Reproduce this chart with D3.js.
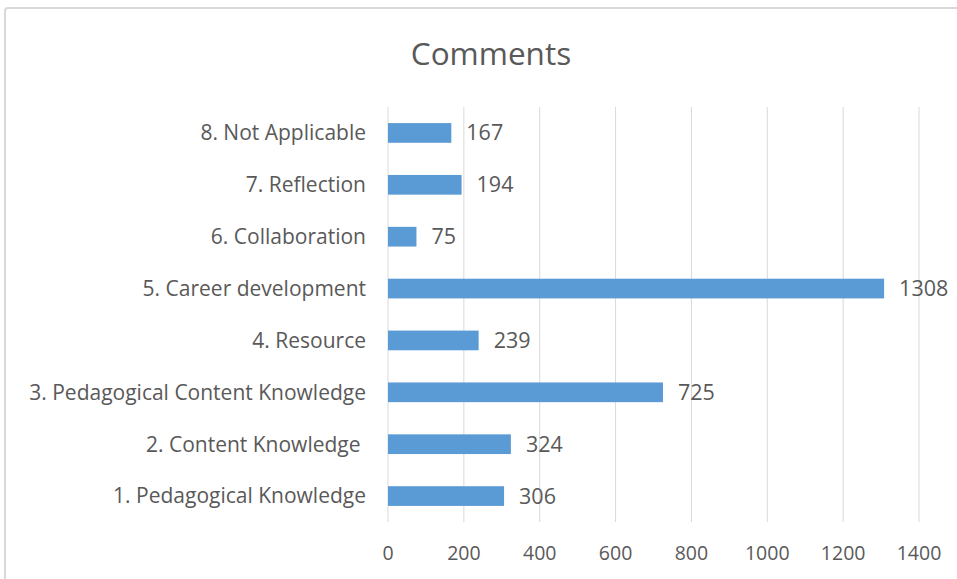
<!DOCTYPE html>
<html>
<head>
<script src="https://d3js.org/d3.v7.min.js"></script>
<style>
  body { margin: 0; background: #fff; }
  text { font-family: "Open Sans", sans-serif; fill: #595959; }
  .cat { white-space: pre; }
</style>
</head>
<body>
<script>
// chart data, bottom to top as drawn
var categories = ["1. Pedagogical Knowledge", "2. Content Knowledge ", "3. Pedagogical Content Knowledge",
  "4. Resource", "5. Career development", "6. Collaboration", "7. Reflection", "8. Not Applicable"];
var counts = [306, 324, 725, 239, 1308, 75, 194, 167];
var xTicks = [0, 200, 400, 600, 800, 1000, 1200, 1400];
var title = "Comments";

var W = 957, H = 579;
var svg = d3.select("body").append("svg").attr("width", W).attr("height", H);

// outer chart frame (runs off the right and bottom edges)
svg.append("rect").attr("x", 5).attr("y", 8).attr("width", 980).attr("height", 620)
  .attr("rx", 3).attr("fill", "#fff").attr("stroke", "#d9d9d9").attr("stroke-width", 2);

var plotL = 388, plotR = 919, plotT = 107, plotB = 522;
var x = d3.scaleLinear().domain([0, 1400]).range([plotL, plotR]);
var y = d3.scaleBand().domain(categories.slice().reverse()).range([plotT, plotB]).paddingInner(0.62).paddingOuter(0.31);

// gridlines
svg.append("g").selectAll("line").data(xTicks).join("line")
  .attr("x1", d => x(d)).attr("x2", d => x(d))
  .attr("y1", plotT).attr("y2", plotB)
  .attr("stroke", "#d9d9d9").attr("stroke-width", 1);

// bars
svg.append("g").selectAll("rect").data(categories).join("rect")
  .attr("x", x(0)).attr("y", d => y(d))
  .attr("width", (d, i) => x(counts[i]) - x(0))
  .attr("height", y.bandwidth())
  .attr("fill", "#5b9bd5");

// value labels
svg.append("g").selectAll("text").data(categories).join("text")
  .attr("x", (d, i) => x(counts[i]) + 15)
  .attr("y", d => y(d) + y.bandwidth() / 2)
  .attr("dy", "0.35em")
  .attr("font-size", 21.5)
  .text((d, i) => counts[i]);

// category labels
svg.append("g").selectAll("text").data(categories).join("text")
  .attr("class", "cat")
  .attr("x", 366)
  .attr("y", d => y(d) + y.bandwidth() / 2)
  .attr("dy", "0.35em")
  .attr("text-anchor", "end")
  .attr("font-size", 21)
  .text(d => d);

// x tick labels
svg.append("g").selectAll("text").data(xTicks).join("text")
  .attr("x", d => x(d)).attr("y", 553)
  .attr("dy", "0.35em")
  .attr("text-anchor", "middle")
  .attr("font-size", 19.5)
  .text(d => d);

svg.append("text").attr("x", 491).attr("y", 54).attr("dy", "0.35em")
  .attr("text-anchor", "middle").attr("font-size", 31.5).text(title);
</script>
</body>
</html>
